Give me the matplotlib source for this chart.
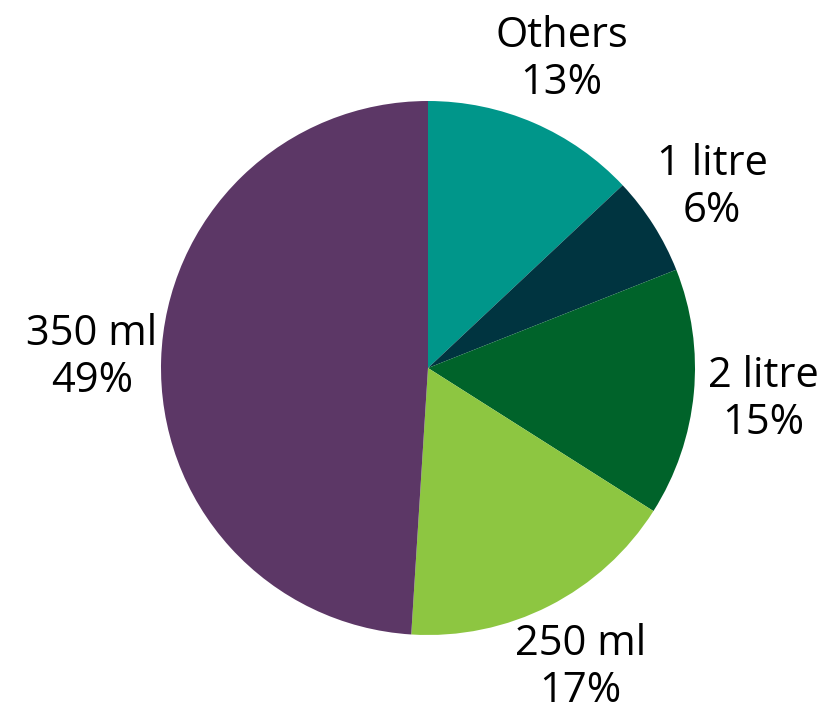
import numpy as np
import matplotlib.pyplot as plt

# bottle size share
sizes = ["Others", "1 litre", "2 litre", "250 ml", "350 ml"]
shares = [13, 6, 15, 17, 49]
colors = ["#00968a", "#003440", "#00632a", "#8dc641", "#5c3766"]

labels = [f"{s}\n{v}%" for s, v in zip(sizes, shares)]

fig = plt.figure(figsize=(8.2, 7.13), dpi=100)
ax = fig.add_axes([161 / 820, 78 / 713, 534 / 820, 534 / 713])

ax.pie(shares, labels=labels, colors=colors, startangle=90, counterclock=False,
       radius=1, labeldistance=1.26,
       wedgeprops=dict(linewidth=0),
       textprops=dict(fontsize=30, family="Open Sans", ha="center", va="center",
                      linespacing=1.15, color="black"))
ax.set_xlim(-1, 1)
ax.set_ylim(-1, 1)
ax.set_aspect("equal")

plt.savefig("out.png", dpi=100)
